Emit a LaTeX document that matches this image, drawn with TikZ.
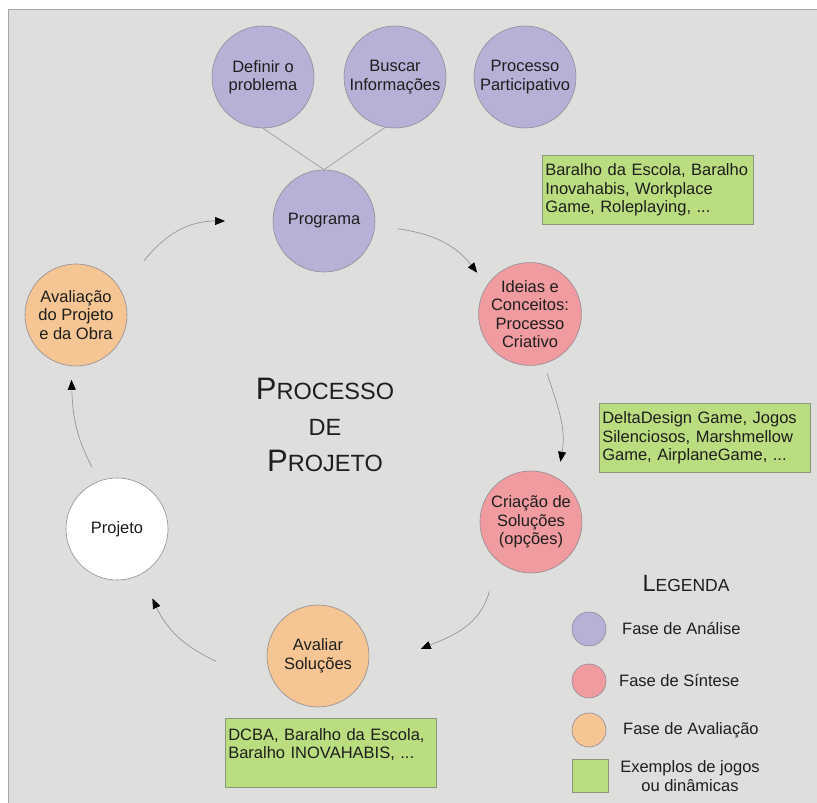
\documentclass[tikz,border=0pt]{standalone}
\usepackage{fontspec}
\setmainfont{Liberation Sans}
\usetikzlibrary{arrows.meta,calc}
\definecolor{bg}{RGB}{222,222,220}
\definecolor{frameline}{RGB}{165,165,165}
\definecolor{purp}{RGB}{184,176,214}
\definecolor{pinkc}{RGB}{240,155,160}
\definecolor{orangec}{RGB}{245,197,147}
\definecolor{greenc}{RGB}{186,221,127}
\definecolor{circedge}{RGB}{145,140,150}
\definecolor{boxedge}{RGB}{140,150,125}
\definecolor{conngray}{RGB}{150,150,150}
\definecolor{txt}{RGB}{30,30,30}
\begin{document}
\begin{tikzpicture}[x=1pt,y=1pt,
  phase/.style={circle, draw=circedge, line width=0.6pt, minimum size=102pt, inner sep=0pt,
    align=center, font=\fontsize{16.5}{18.5}\selectfont, text=txt},
  analise/.style={phase, fill=purp},
  sintese/.style={phase, fill=pinkc},
  avalia/.style={phase, fill=orangec},
  gbox/.style={draw=boxedge, line width=0.6pt, fill=greenc, anchor=north west,
    minimum width=211pt, minimum height=69pt, text width=205pt, inner sep=3pt,
    align=left, font=\fontsize{16.5}{18.3}\selectfont, text=txt},
  conn/.style={draw=conngray, line width=0.7pt, -{Triangle[length=10pt,width=8pt,color=black]}},
  link/.style={draw=conngray, line width=0.6pt},
  legc/.style={circle, draw=circedge, line width=0.6pt, minimum size=34pt, inner sep=0pt},
  legt/.style={anchor=west, font=\fontsize{16.5}{18.5}\selectfont, text=txt, inner sep=0pt},
  ttl/.style={anchor=base, inner sep=0pt, text=txt}
]
\useasboundingbox (0,0) rectangle (817,803);
\fill[bg] (8,0) rectangle (817,793);
\draw[frameline, line width=1pt] (8,0) -- (8,793) -- (817,793);

% nodes
\node[analise] (definir) at (263,726) {Definir o\\problema};
\node[analise] (buscar) at (395,726) {Buscar\\Informações};
\node[analise] (partic) at (525,726) {Processo\\Participativo};
\node[analise] (programa) at (324,582) {Programa};
\node[sintese] (ideias) at (530,489) {Ideias e\\Conceitos:\\Processo\\Criativo};
\node[sintese] (criacao) at (531,281) {Criação de\\Soluções\\(opções)};
\node[avalia] (avaliar) at (318,147) {Avaliar\\Soluções};
\node[phase, fill=white] (projeto) at (117,274) {Projeto};
\node[avalia] (avalobra) at (76,488) {Avaliação\\do Projeto\\e da Obra};

% links from top circles
\draw[link] (definir.south) -- (programa.north);
\draw[link] (buscar.259) -- (programa.north);

% cycle connectors
\draw[conn] ($(avalobra)+(38.5:87)$) to[out=52,in=180] ($(programa)+(180:99)$);
\draw[conn] ($(programa)+(-6:74)$) to[out=-8,in=128] ($(ideias)+(142:67)$);
\draw[conn] ($(ideias)+(-74:62)$) to[out=-72,in=80] ($(criacao)+(64:67)$);
\draw[conn] ($(criacao)+(-121:81)$) to[out=-105,in=22] ($(avaliar)+(4:103)$);
\draw[conn] ($(avaliar)+(183:102)$) to[out=155,in=-65] ($(projeto)+(-63:78)$);
\draw[conn] ($(projeto)+(112:67)$) to[out=118,in=-88] ($(avalobra)+(-94:65)$);

% example boxes
\node[gbox] (box1) at (542,648) {Baralho da Escola, Baralho\\Inovahabis, Workplace\\Game, Roleplaying, ...};
\node[gbox] (box2) at (599,400) {DeltaDesign Game, Jogos\\Silenciosos, Marshmellow\\Game, AirplaneGame, ...};
\node[gbox] (box3) at (225,85) {DCBA, Baralho da Escola,\\Baralho INOVAHABIS, ...\\\mbox{}};

% title
\node[ttl] (t1) at (325,403) {\fontsize{31}{31}\selectfont P\fontsize{23.5}{23.5}\selectfont ROCESSO};
\node[ttl] (t2) at (325,367) {\fontsize{23.5}{23.5}\selectfont DE};
\node[ttl] (t3) at (325,331) {\fontsize{31}{31}\selectfont P\fontsize{23.5}{23.5}\selectfont ROJETO};

% legend
\node[ttl] (leg) at (686,211) {\fontsize{23.5}{23.5}\selectfont L\fontsize{17.5}{17.5}\selectfont EGENDA};
\node[legc, fill=purp] (l1) at (589,174) {};
\node[legc, fill=pinkc] (l2) at (589,122) {};
\node[legc, fill=orangec] (l3) at (589,73) {};
\node[draw=boxedge, line width=0.6pt, fill=greenc, minimum width=36pt, minimum height=33pt, inner sep=0pt] (l4) at (590,27.5) {};
\node[legt] (lt1) at (622,174) {Fase de Análise};
\node[legt] (lt2) at (619,122) {Fase de Síntese};
\node[legt] (lt3) at (623,73) {Fase de Avaliação};
\node[align=center, font=\fontsize{16.5}{18.5}\selectfont, text=txt, inner sep=0pt] (lt4) at (690,27) {Exemplos de jogos\\ou dinâmicas};
\end{tikzpicture}
\end{document}
